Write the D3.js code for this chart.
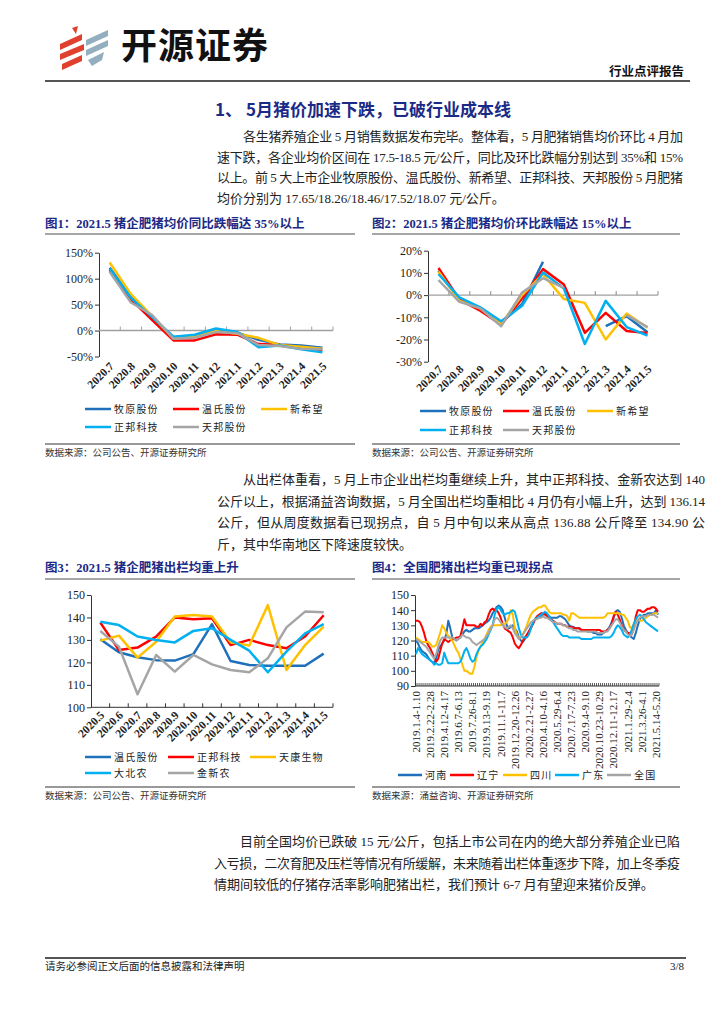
<!DOCTYPE html>
<html><head><meta charset="utf-8">
<script src="https://cdn.jsdelivr.net/npm/d3@7"></script>
<style>
body{margin:0;background:#fff}
svg text{font-family:"Liberation Serif","Noto Sans CJK SC",serif}
.cjk{font-family:"Noto Sans CJK SC",sans-serif}
</style></head><body>
<svg id="page" width="724" height="1024"></svg>
<script>
// ---- chart data ----
const monthsYoY = ['2020.7', '2020.8', '2020.9', '2020.10', '2020.11', '2020.12', '2021.1', '2021.2', '2021.3', '2021.4', '2021.5'];
const yoyMuyuan = [121, 65, 25, -13, -11, 0, -4, -18, -27, -29, -33];
const yoyWens = [117, 60, 20, -19, -19, -7, -8, -26, -28, -33, -38];
const yoyXinxiwang = [131, 70, 28, -15, -12, -1, -6, -14, -28, -31, -35];
const yoyZhengbang = [119, 63, 26, -12, -8, 4, -3, -32, -29, -36, -42];
const yoyTianbang = [113, 54, 30, -16, -14, -3, -5, -28, -30, -35, -36];

const momMuyuan = [11, -2, -6, -12.5, -4, 15, null, null, -14, -9.5, -16.7];
const momWens = [12.2, -2, -7, -13.3, -1.5, 11.7, 4.8, -17, -8, -16.2, -17.1];
const momXinxiwang = [10.6, -2.5, -6, -13, 0, 9.4, -1.8, -3.5, -20, -8.3, -14.7];
const momZhengbang = [9.5, -1, -5.5, -11.8, -4.8, 10.2, 3, -22, -2.6, -14.4, -18.2];
const momTianbang = [6.8, -3, -6, -14, 1.2, 7.6, 3.3, null, null, -9, -14.4];

const monthsWeight = ['2020.5', '2020.6', '2020.7', '2020.8', '2020.9', '2020.10', '2020.11', '2020.12', '2021.1', '2021.2', '2021.3', '2021.4', '2021.5'];
const wtWens = [130.3, 124.5, 122.3, 121, 120.8, 123.7, 137, 120.6, 118.8, 118.5, 118.5, 118.5, 123.9];
const wtZhengbang = [137.7, 125.5, 126.6, 131.5, 140, 139.2, 139.6, 127.7, 130, 127.7, 126.3, 131.5, 141];
const wtTiankang = [129.7, 131.9, 122.1, 129.2, 140.4, 141.1, 140.4, 129, 127.5, 145.5, 116.6, 127.7, 135.9];
const wtDabeinong = [138.1, 136.6, 131.5, 130, 128.9, 134, 135.2, 130, 125.2, 115.6, 124.8, 132.9, 137];
const wtJinxinnong = [134, 127, 105.8, 123.3, 115.9, 123.3, 119.1, 116.6, 115.6, 121.8, 135.6, 142.6, 142.3];

const weekLabels = ['2019.1.4-1.10', '2019.2.22-2.28', '2019.4.12-4.17', '2019.6.7-6.13', '2019.7.26-8.1', '2019.9.13-9.19',
  '2019.11.1-11.7', '2019.12.20-12.26', '2020.2.21-2.27', '2020.4.10-4.16', '2020.5.29-6.4', '2020.7.17-7.23',
  '2020.9.4-9.10', '2020.10.23-10.29', '2020.12.11-12.17', '2021.1.29-2.4', '2021.3.26-4.1', '2021.5.14-5.20'];
const henan = [120, 118, 115, 113, 112, 111, 109, 107, 106, 105,
  108, 114, 116, 118, 120, 124, 133, 128, 122, 121,
  120, 121, 122, 124, 126, 127, 126, 126, 127, 128,
  128, 128, 129, 130, 131, 132, 133, 135, 138, 140,
  142, 143, 142, 140, 135, 130, 128, 129, 130, 128,
  126, 122, 120, 119, 121, 123, 126, 129, 131, 134,
  135, 135, 136, 137, 138, 137, 136, 135, 135, 135,
  135, 136, 136, 135, 134, 132, 130, 129, 129, 128,
  128, 128, 127, 127, 127, 126, 126, 126, 125, 125,
  124, 124, 124, 125, 126, 127, 129, 132, 135, 139,
  140, 139, 135, 130, 127, 125, 123, 122, 121, 125,
  130, 134, 136, 137, 137, 138, 138, 138, 138, 140, 137];
const liaoning = [133, 133, 132, 129, 125, 120, 117, 115, 112, 109,
  106, 108, 113, 118, 121, 120, 119, 120, 121, 121,
  122, 122, 123, 128, 134, 130, 130, 130, 130, 130,
  129, 129, 131, 130, 132, 133, 137, 140, 141, 140,
  140, 138, 135, 131, 128, 127, 126, 125, 122, 118,
  116, 115, 117, 120, 122, 124, 126, 128, 131, 134,
  136, 137, 138, 138, 137, 136, 135, 134, 133, 132,
  131, 131, 131, 130, 130, 129, 129, 129, 128, 128,
  128, 128, 127, 127, 127, 127, 127, 127, 127, 127,
  127, 127, 126, 126, 126, 127, 128, 131, 136, 139,
  137, 134, 130, 127, 126, 125, 125, 124, 129, 136,
  140, 140, 139, 139, 140, 141, 141, 142, 142, 141, 139];
const sichuan = [122, 121, 120, 119, 119, 119, 119, 118, 116, 116,
  117, 121, 125, 130, 128, 125, 123, 121, 120, 117,
  114, 112, 108, 104, 100, 100, 99, 98, 98, 103,
  109, 113, 116, 119, 121, 124, 127, 129, 130, 130,
  130, 130, 130, 131, 131, 132, 135, 140, 137, 128,
  124, 121, 122, 124, 127, 130, 134, 137, 139, 140,
  141, 142, 142, 143, 143, 141, 139, 138, 138, 138,
  138, 138, 138, 137, 137, 136, 133, 138, 138, 137,
  136, 135, 135, 135, 135, 135, 135, 135, 135, 135,
  135, 135, 135, 135, 136, 138, 138, 138, 138, 138,
  138, 138, 137, 137, 135, 133, 129, 128, 131, 133,
  134, 133, 133, 134, 135, 136, 137, 137, 138, 138, 138];
const guangdong = [111, 115, 113, 111, 110, 109, 108, 107, 106, 104,
  105, 104, 104, 105, 112, 108, 105, 105, 105, 105,
  105, 105, 106, 109, 113, 115, 112, 108, 106, 107,
  111, 114, 116, 117, 119, 121, 124, 127, 130, 137,
  141, 142, 140, 138, 137, 138, 138, 139, 140, 139,
  134, 128, 124, 122, 122, 122, 124, 128, 132, 134,
  135, 136, 137, 138, 139, 138, 136, 134, 132, 130,
  128, 126, 124, 123, 123, 123, 122, 122, 122, 122,
  122, 122, 121, 121, 121, 121, 121, 121, 122, 122,
  122, 122, 122, 122, 122, 122, 122, 123, 125, 128,
  130, 129, 127, 124, 123, 122, 124, 127, 131, 134,
  136, 137, 136, 134, 132, 131, 130, 129, 128, 127, 126];
const national = [121, 120, 119, 118, 117, 116, 114, 112, 110, 108,
  111, 116, 120, 122, 122, 122, 122, 122, 122, 121,
  120, 121, 122, 124, 123, 122, 122, 121, 119, 118,
  117, 118, 119, 120, 121, 123, 125, 128, 130, 134,
  135, 134, 132, 130, 129, 128, 129, 130, 128, 125,
  123, 121, 122, 124, 126, 128, 130, 132, 133, 134,
  134, 135, 135, 136, 135, 135, 134, 133, 132, 132,
  131, 131, 131, 130, 130, 129, 128, 128, 127, 127,
  126, 126, 126, 126, 126, 126, 126, 126, 126, 126,
  125, 125, 125, 125, 126, 126, 128, 130, 132, 134,
  134, 132, 129, 127, 126, 124, 123, 124, 127, 131,
  133, 135, 136, 136, 136, 137, 137, 137, 137, 136, 135];

const c = { blue: '#1F70BA', red: '#FF0000', yellow: '#FFC000', cyan: '#00B0F0', grey: '#A5A5A5', navy: '#1B2A86' };
const svg = d3.select('#page');

const addText = (x, y, str, o = {}) => {
  const t = svg.append('text').attr('x', x).attr('y', y).text(str)
    .attr('font-size', o.size || 13)
    .attr('font-weight', o.weight || 400)
    .attr('fill', o.fill || '#222')
    .attr('text-anchor', o.anchor || 'start');
  if (o.cls) t.attr('class', o.cls);
  if (o.width) t.attr('textLength', o.width).attr('lengthAdjust', 'spacing');
  if (o.ls) t.attr('letter-spacing', o.ls);
  return t;
};
const hline = (x1, x2, y, color, w) => svg.append('line')
  .attr('x1', x1).attr('x2', x2).attr('y1', y).attr('y2', y)
  .attr('stroke', color).attr('stroke-width', w);

// ---- header ----
const logo = svg.append('g');
[[60, 44, 82, 34, 82, 40, 60, 50], [60, 54, 84, 44, 84, 50, 60, 60], [62, 64, 82, 55, 82, 61, 62, 70]]
  .forEach(p => logo.append('polygon').attr('points', p.join(',')).attr('fill', '#E0402E'));
logo.append('polygon').attr('points', '72,28 78,26 76,34').attr('fill', '#E0402E');
[[86, 40, 108, 30, 108, 36, 86, 46], [86, 50, 108, 40, 108, 46, 86, 56], [88, 60, 104, 52, 102, 60, 92, 66]]
  .forEach(p => logo.append('polygon').attr('points', p.join(',')).attr('fill', '#93AEBE'));
addText(121, 59, '开源证券', { size: 36, weight: 700, fill: '#111', cls: 'cjk', ls: 1 });
addText(684, 76, '行业点评报告', { size: 12.5, weight: 700, fill: '#111', anchor: 'end', cls: 'cjk' });
hline(45, 690, 81, '#555', 2);

addText(215, 116, '1、 5月猪价加速下跌，已破行业成本线', { size: 17, weight: 700, fill: c.navy, cls: 'cjk' });

const para1 = ['各生猪养殖企业 5 月销售数据发布完毕。整体看，5 月肥猪销售均价环比 4 月加',
  '速下跌，各企业均价区间在 17.5-18.5 元/公斤，同比及环比跌幅分别达到 35%和 15%',
  '以上。前 5 大上市企业牧原股份、温氏股份、新希望、正邦科技、天邦股份 5 月肥猪',
  '均价分别为 17.65/18.26/18.46/17.52/18.07 元/公斤。'];
const para2 = ['从出栏体重看，5 月上市企业出栏均重继续上升，其中正邦科技、金新农达到 140',
  '公斤以上，根据涌益咨询数据，5 月全国出栏均重相比 4 月仍有小幅上升，达到 136.14',
  '公斤，但从周度数据看已现拐点，自 5 月中旬以来从高点 136.88 公斤降至 134.90 公',
  '斤，其中华南地区下降速度较快。'];
const para3 = ['目前全国均价已跌破 15 元/公斤，包括上市公司在内的绝大部分养殖企业已陷',
  '入亏损，二次育肥及压栏等情况有所缓解，未来随着出栏体重逐步下降，加上冬季疫',
  '情期间较低的仔猪存活率影响肥猪出栏，我们预计 6-7 月有望迎来猪价反弹。'];
const drawPara = (lines, left, right, y0, lh) => {
  lines.forEach((s, i) => {
    const x = i === 0 ? left + 26 : left;
    const o = { size: 13 };
    if (i < lines.length - 1) o.width = right - x;
    addText(x, y0 + i * lh, s, o);
  });
};
drawPara(para1, 217, 683, 141, 20.5);
drawPara(para2, 217, 705, 484, 21.5);
drawPara(para3, 214, 680, 846, 21.5);

// ---- chart frame ----
const frame = (x1, x2, titleY, lineY, bottomY, title, source) => {
  addText(x1, titleY, title, { size: 12.5, weight: 700, fill: c.navy });
  hline(x1, x2, lineY, '#888', 1.5);
  hline(x1, x2, bottomY, '#777', 1.5);
  addText(x1, bottomY + 12, source, { size: 9.5, fill: '#333', cls: 'cjk' });
};
frame(45, 355, 228, 234, 444, '图1：2021.5 猪企肥猪均价同比跌幅达 35%以上', '数据来源：公司公告、开源证券研究所');
frame(372, 680, 228, 234, 444, '图2：2021.5 猪企肥猪均价环比跌幅达 15%以上', '数据来源：公司公告、开源证券研究所');
frame(45, 355, 572, 579, 787, '图3：2021.5 猪企肥猪出栏均重上升', '数据来源：公司公告、开源证券研究所');
frame(372, 680, 572, 579, 787, '图4：全国肥猪出栏均重已现拐点', '数据来源：涌益咨询、开源证券研究所');

// ---- generic line chart ----
const lineChart = (cs) => {
  const g = svg.append('g');
  const x = d3.scaleBand().domain(cs.cats).range([cs.left, cs.right]);
  const y = d3.scaleLinear().domain(cs.yDomain).range([cs.bottom, cs.top]);
  const bw = x.bandwidth();

  const yAxis = g.append('g').attr('transform', `translate(${cs.left},0)`)
    .call(d3.axisLeft(y).tickValues(cs.yTicks).tickSize(4).tickSizeOuter(0).tickFormat(cs.yFmt));
  yAxis.select('.domain').attr('stroke', '#333');
  yAxis.selectAll('.tick line').attr('stroke', '#333');
  yAxis.selectAll('.tick text').attr('font-size', 12).attr('fill', '#222')
    .attr('font-family', '"Liberation Serif",serif').attr('x', -6);

  // category base line with boundary ticks
  const baseY = y(cs.base);
  g.append('line').attr('x1', cs.left).attr('x2', cs.right).attr('y1', baseY).attr('y2', baseY)
    .attr('stroke', cs.baseColor).attr('stroke-width', cs.baseWidth);
  g.selectAll('.ctick').data(cs.cats).enter().append('line')
    .attr('x1', d => x(d) + bw).attr('x2', d => x(d) + bw)
    .attr('y1', baseY).attr('y2', baseY - cs.tickLen)
    .attr('stroke', cs.baseColor).attr('stroke-width', cs.tickWidth || 1);

  const line = d3.line().defined(d => d.v != null)
    .x(d => x(d.c) + bw / 2).y(d => y(d.v));
  cs.series.forEach((s) => {
    g.append('path').datum(cs.cats.map((cat, i) => ({ c: cat, v: s.values[i] })))
      .attr('fill', 'none').attr('stroke', s.color).attr('stroke-width', cs.lw)
      .attr('stroke-linejoin', 'round').attr('d', line);
  });

  g.selectAll('.xl').data(cs.labels).enter().append('text')
    .attr('transform', d => `translate(${x(d.cat) + bw / 2 + cs.labelDx},${cs.labelY}) rotate(${cs.rot})`)
    .attr('text-anchor', 'end').attr('dy', '0.35em')
    .attr('font-size', cs.labelSize).attr('font-weight', cs.labelWeight).attr('fill', '#222')
    .text(d => d.text);

  cs.legend.forEach((it) => {
    g.append('line').attr('x1', it.x).attr('x2', it.x + cs.legLen).attr('y1', it.y).attr('y2', it.y)
      .attr('stroke', it.color).attr('stroke-width', 2.5);
    g.append('text').attr('class', 'cjk').attr('x', it.x + cs.legLen + 3).attr('y', it.y + 3.5)
      .attr('font-size', 10).attr('letter-spacing', 1.2).attr('fill', '#222').text(it.name);
  });
};

const pct = d => `${d}%`;
const legendRows = (names, colors, xs, ys) => names.map((n, i) => ({
  name: n, color: colors[i], x: xs[i % xs.length], y: ys[Math.floor(i / xs.length)],
}));
const fiveColors = [c.blue, c.red, c.yellow, c.cyan, c.grey];
const fiveCos = ['牧原股份', '温氏股份', '新希望', '正邦科技', '天邦股份'];

lineChart({
  cats: monthsYoY, left: 99, right: 333, top: 252.7, bottom: 356.5,
  yDomain: [-50, 150], yTicks: [-50, 0, 50, 100, 150], yFmt: pct,
  base: 0, baseColor: '#A0A0A0', baseWidth: 1.5, tickLen: 4, lw: 2.5,
  series: [yoyMuyuan, yoyWens, yoyXinxiwang, yoyZhengbang, yoyTianbang].map((v, i) => ({ values: v, color: fiveColors[i] })),
  labels: monthsYoY.map(m => ({ cat: m, text: m })), labelY: 364, labelDx: 2, rot: -45, labelSize: 11.5, labelWeight: 700,
  legend: legendRows(fiveCos, fiveColors, [85, 173, 261], [409, 427]), legLen: 26,
});

lineChart({
  cats: monthsYoY, left: 428, right: 658, top: 250.7, bottom: 361.7,
  yDomain: [-30, 20], yTicks: [-30, -20, -10, 0, 10, 20], yFmt: pct,
  base: 0, baseColor: '#888', baseWidth: 1, tickLen: 4, lw: 2.5,
  series: [momMuyuan, momWens, momXinxiwang, momZhengbang, momTianbang].map((v, i) => ({ values: v, color: fiveColors[i] })),
  labels: monthsYoY.map(m => ({ cat: m, text: m })), labelY: 367, labelDx: 2, rot: -45, labelSize: 11.5, labelWeight: 700,
  legend: legendRows(fiveCos, fiveColors, [420, 503, 587], [411, 430]), legLen: 26,
});

lineChart({
  cats: monthsWeight, left: 91, right: 333, top: 595, bottom: 707.3,
  yDomain: [100, 150], yTicks: [100, 110, 120, 130, 140, 150], yFmt: d => d,
  base: 100, baseColor: '#333', baseWidth: 1, tickLen: 4, lw: 2.5,
  series: [wtWens, wtZhengbang, wtTiankang, wtDabeinong, wtJinxinnong].map((v, i) => ({ values: v, color: fiveColors[i] })),
  labels: monthsWeight.map(m => ({ cat: m, text: m })), labelY: 713, labelDx: 2, rot: -45, labelSize: 11.5, labelWeight: 700,
  legend: legendRows(['温氏股份', '正邦科技', '天康生物', '大北农', '金新农'], fiveColors, [85, 168, 250], [757, 773]), legLen: 26,
});

const weeks = d3.range(henan.length);
lineChart({
  cats: weeks, left: 415, right: 659, top: 595, bottom: 686,
  yDomain: [90, 150], yTicks: [90, 100, 110, 120, 130, 140, 150], yFmt: d => d,
  base: 90, baseColor: '#333', baseWidth: 1, tickLen: 3, tickWidth: 0.8, lw: 2,
  series: [henan, liaoning, sichuan, guangdong, national].map((v, i) => ({ values: v, color: fiveColors[i] })),
  labels: weekLabels.map((t, k) => ({ cat: k * 7, text: t })), labelY: 691, labelDx: 0, rot: -90, labelSize: 11, labelWeight: 400,
  legend: legendRows(['河南', '辽宁', '四川', '广东', '全国'], fiveColors, [398, 450, 503, 555, 607], [775]), legLen: 24,
});

// ---- footer ----
hline(45, 686, 958, '#555', 2);
addText(45, 970, '请务必参阅正文后面的信息披露和法律声明', { size: 10.5, fill: '#222', cls: 'cjk' });
addText(684, 970, '3/8', { size: 11, fill: '#222', anchor: 'end' });
</script>
</body></html>
